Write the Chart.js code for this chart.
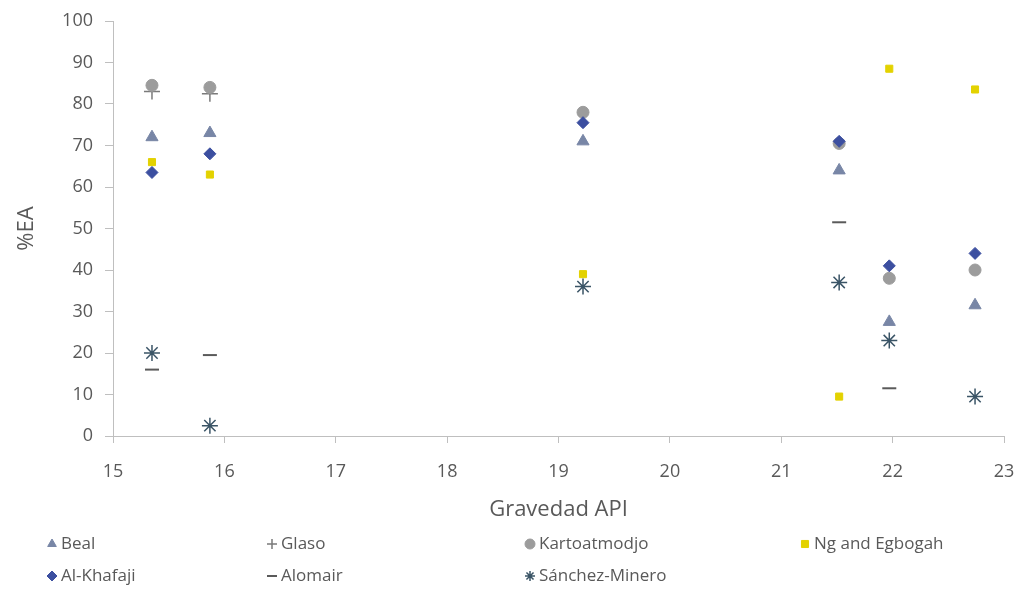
<!DOCTYPE html>
<html>
<head>
<meta charset="utf-8">
<script src="https://cdn.jsdelivr.net/npm/chart.js@4/dist/chart.umd.min.js"></script>
<style>
  html, body { margin: 0; padding: 0; background: #fff; }
  #wrap { width: 1027px; height: 597px; position: relative; }
</style>
</head>
<body>
<div id="wrap"><canvas id="eaChart"></canvas></div>
<script>
// datos
const gravedad = [15.35, 15.87, 19.22, 21.52, 21.97, 22.74];
const beal = [72, 73, 71, 64, 27.5, 31.5];
const glaso = [83, 82.5, null, null, null, null];
const kartoatmodjo = [84.5, 84, 78, 70.5, 38, 40];
const ngEgbogah = [66, 63, 39, 9.5, 88.5, 83.5];
const alKhafaji = [63.5, 68, 75.5, 71, 41, 44];
const alomair = [16, 19.5, null, 51.5, 11.5, null];
const sanchezMinero = [20, 2.5, 36, 37, 23, 9.5];
const yTicks = [0, 10, 20, 30, 40, 50, 60, 70, 80, 90, 100];
const xTicks = [15, 16, 17, 18, 19, 20, 21, 22, 23];

const FONT = "'Open Sans', 'DejaVu Sans', sans-serif";

function puntos(arr) {
    return gravedad.map((x, i) => ({ x: x, y: arr[i] })).filter(p => p.y !== null);
}

let nSeries = 7;
let idx = 0;
function serie(label, arr, style, color, radius, bw) {
    // las series posteriores se dibujan encima (como Excel)
    const order = nSeries - idx;
    idx++;
    return {
        label: label,
        data: puntos(arr),
        pointStyle: style,
        backgroundColor: color,
        borderColor: color,
        pointRadius: radius,
        pointHoverRadius: radius,
        borderWidth: bw,
        showLine: false,
        order: order
    };
}

const datasets = [
    serie('Beal', beal, 'triangle', '#7886a6', 7, 1),
    serie('Glaso', glaso, 'cross', '#7a7a7a', 8, 1.5),
    serie('Kartoatmodjo', kartoatmodjo, 'circle', '#9c9c9c', 6, 1),
    serie('Ng and Egbogah', ngEgbogah, 'rect', '#e3d200', 5, 1),
    serie('Al-Khafaji', alKhafaji, 'rectRot', '#3c4fa0', 6, 1),
    serie('Alomair', alomair, 'line', '#5a5a5a', 7, 2),
    serie('Sánchez-Minero', sanchezMinero, 'star', '#3a5466', 8, 1.5)
];

// leyenda en columnas fijas
const legendCols = [52, 272, 530, 805];
const legendRows = [544, 576];
const legendPlugin = {
    id: 'legendColumnas',
    afterDraw(chart) {
        const ctx = chart.ctx;
        ctx.save();
        chart.data.datasets.forEach((ds, i) => {
            const cx = legendCols[i % 4];
            const cy = legendRows[Math.floor(i / 4)];
            ctx.fillStyle = ds.backgroundColor;
            ctx.strokeStyle = ds.borderColor;
            ctx.lineWidth = ds.borderWidth;
            Chart.helpers.drawPoint(ctx, {
                pointStyle: ds.pointStyle,
                radius: Math.min(ds.pointRadius, 5),
                rotation: 0,
                borderWidth: ds.borderWidth
            }, cx, cy);
            ctx.fillStyle = '#595959';
            ctx.font = "17px " + FONT;
            ctx.textBaseline = 'middle';
            ctx.textAlign = 'left';
            ctx.fillText(ds.label, cx + 9, cy);
        });
        ctx.restore();
    }
};

new Chart(document.getElementById('eaChart'), {
    type: 'scatter',
    data: { datasets: datasets },
    plugins: [legendPlugin],
    options: {
        responsive: true,
        maintainAspectRatio: false,
        animation: false,
        layout: { padding: { left: 14, right: 23, top: 19, bottom: 74 } },
        plugins: {
            legend: { display: false },
            tooltip: { enabled: false }
        },
        scales: {
            x: {
                type: 'linear',
                min: 15,
                max: 23,
                afterBuildTicks: axis => { axis.ticks = xTicks.map(v => ({ value: v })); },
                afterFit: axis => {
                    axis.height = 87;
                    axis.paddingRight = 8;
                    axis.paddingLeft = 0;
                },
                ticks: { color: '#595959', font: { size: 18, family: FONT }, padding: 18 },
                grid: { drawOnChartArea: false, drawTicks: true, tickLength: 7, color: '#bfbfbf' },
                border: { color: '#bfbfbf' },
                title: {
                    display: true,
                    text: 'Gravedad API',
                    color: '#595959',
                    font: { size: 22, family: FONT },
                    padding: { top: 0, bottom: 0 }
                }
            },
            y: {
                min: 0,
                max: 100,
                afterBuildTicks: axis => { axis.ticks = yTicks.map(v => ({ value: v })); },
                afterFit: axis => { axis.width = 99; },
                ticks: { color: '#595959', font: { size: 18, family: FONT, lineHeight: 1 }, padding: 12 },
                grid: { drawOnChartArea: false, drawTicks: true, tickLength: 8, color: '#bfbfbf' },
                border: { color: '#bfbfbf' },
                title: {
                    display: true,
                    text: '%EA',
                    color: '#595959',
                    font: { size: 22, family: FONT },
                    padding: { top: 0, bottom: 6 }
                }
            }
        }
    }
});
</script>
</body>
</html>
